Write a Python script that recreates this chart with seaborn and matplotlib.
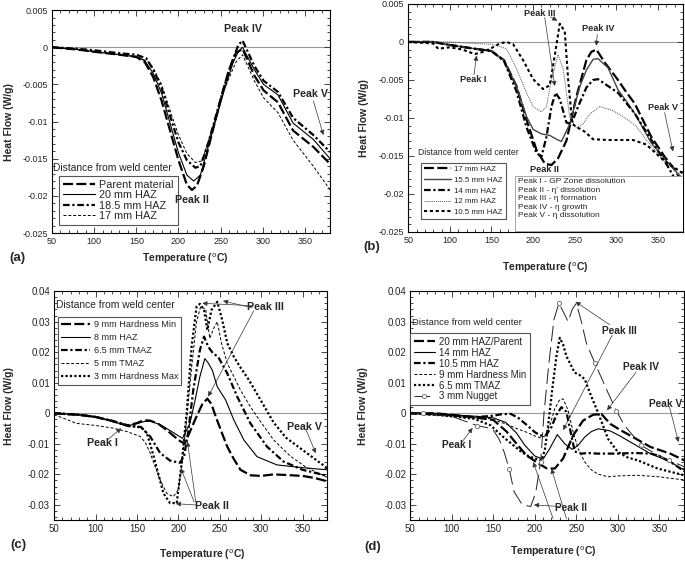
import numpy as np
import pandas as pd
import seaborn as sns
import matplotlib.pyplot as plt
from matplotlib.ticker import MultipleLocator, FuncFormatter
from matplotlib.patches import Rectangle

sns.set_style("ticks")
plt.rcParams['font.family'] = ['Liberation Sans', 'DejaVu Sans']
plt.rcParams['axes.unicode_minus'] = False
plt.rcParams['mathtext.default'] = 'regular'

# ---------------- panel (a) ----------------
a_parent_t = [50, 80, 100, 130, 150, 160, 170, 180, 190, 200, 210, 216, 222, 230, 240, 250, 260, 268, 276, 290, 301, 318, 336, 360, 380]
a_parent = [0, -0.0003, -0.0006, -0.001, -0.0013, -0.002, -0.004, -0.0072, -0.0112, -0.0152, -0.0185, -0.0192, -0.0186, -0.016, -0.0115, -0.007, -0.003, -0.0008, -0.0002, -0.0038, -0.0058, -0.0074, -0.0112, -0.0134, -0.0157]
a_20_t = [50, 80, 100, 130, 150, 160, 170, 180, 190, 200, 210, 218, 226, 235, 245, 255, 265, 271, 276, 290, 301, 318, 336, 360, 380]
a_20 = [0, -0.0003, -0.0006, -0.001, -0.0013, -0.0018, -0.0035, -0.0062, -0.0102, -0.0142, -0.0172, -0.018, -0.0172, -0.0135, -0.0095, -0.0055, -0.002, -0.0006, 0.0, -0.003, -0.005, -0.0064, -0.0102, -0.0124, -0.015]
a_185_t = [50, 80, 100, 130, 150, 162, 170, 180, 190, 200, 210, 220, 226, 235, 245, 255, 265, 271, 276, 290, 301, 318, 336, 360, 380]
a_185 = [0, -0.0002, -0.0004, -0.0008, -0.001, -0.0015, -0.003, -0.0055, -0.0092, -0.0128, -0.0152, -0.0162, -0.016, -0.013, -0.009, -0.005, -0.0015, 0.0003, 0.0009, -0.0025, -0.0045, -0.006, -0.0095, -0.0118, -0.0141]
a_17_t = [50, 80, 100, 130, 150, 165, 170, 180, 190, 200, 210, 220, 228, 240, 255, 268, 276, 290, 301, 318, 336, 360, 380]
a_17 = [0, -0.0003, -0.0006, -0.001, -0.0012, -0.002, -0.0028, -0.005, -0.0085, -0.0118, -0.0143, -0.0155, -0.0153, -0.011, -0.0055, -0.002, -0.001, -0.0045, -0.0068, -0.0088, -0.0125, -0.016, -0.0192]

# ---------------- panel (b) ----------------
b_17_t = [50, 80, 100, 130, 150, 165, 180, 192, 204, 214, 222, 230, 240, 252, 264, 270, 276, 286, 302, 310, 322, 332, 342, 358, 370, 380]
b_17 = [0, 0, -0.0004, -0.0009, -0.0012, -0.0024, -0.0058, -0.0102, -0.0142, -0.016, -0.0162, -0.0153, -0.013, -0.0072, -0.0024, -0.0013, -0.001, -0.0027, -0.005, -0.0063, -0.0081, -0.0103, -0.0125, -0.0151, -0.0168, -0.0186]
b_155_t = [50, 80, 100, 130, 150, 165, 180, 192, 200, 210, 220, 228, 234, 244, 256, 264, 272, 278, 290, 302, 312, 322, 342, 362, 380]
b_155 = [0, 0, -0.0004, -0.0009, -0.0012, -0.0024, -0.0058, -0.0098, -0.0115, -0.0121, -0.0123, -0.0128, -0.0131, -0.0108, -0.0059, -0.0037, -0.0023, -0.0022, -0.0034, -0.0063, -0.0078, -0.0094, -0.0133, -0.0159, -0.0181]
b_14_t = [50, 80, 100, 130, 150, 165, 180, 192, 204, 210, 216, 222, 227, 232, 240, 246, 254, 264, 272, 278, 290, 302, 322, 342, 362, 380]
b_14 = [0, 0, -0.0004, -0.0009, -0.0012, -0.0025, -0.0065, -0.0112, -0.0146, -0.0151, -0.0125, -0.0085, -0.0067, -0.0075, -0.0106, -0.0108, -0.0085, -0.006, -0.005, -0.0049, -0.0058, -0.0067, -0.0094, -0.0129, -0.0164, -0.0199]
b_12_t = [50, 100, 130, 150, 160, 168, 180, 192, 200, 210, 216, 222, 230, 236, 244, 252, 260, 268, 280, 295, 308, 324, 336, 356, 380]
b_12 = [0, 0, -0.0002, -0.0003, -0.0006, -0.0009, -0.0035, -0.0067, -0.0085, -0.0092, -0.0085, -0.005, -0.0017, -0.0035, -0.0099, -0.0113, -0.0108, -0.0095, -0.0085, -0.009, -0.0098, -0.0111, -0.0129, -0.0155, -0.0178]
b_105_t = [50, 80, 86, 100, 115, 130, 140, 150, 160, 168, 176, 188, 200, 212, 220, 226, 232, 238, 242, 247, 254, 262, 272, 290, 320, 336, 356, 380]
b_105 = [0, -0.0002, -0.0009, -0.0007, -0.001, -0.0016, -0.0013, -0.0008, -0.0002, 0.0, -0.0003, -0.0024, -0.0049, -0.0062, -0.0057, -0.0018, 0.0024, 0.0014, -0.0048, -0.0108, -0.0113, -0.0118, -0.0128, -0.0129, -0.0129, -0.0135, -0.0155, -0.0173]

# ---------------- panel (c) ----------------
c_9_t = [50, 80, 100, 120, 138, 150, 158, 166, 176, 186, 196, 203, 208, 214, 222, 229, 235, 240, 245, 252, 259, 267, 275, 287, 300, 315, 330, 350, 365, 380]
c_9 = [0, -0.0005, -0.0012, -0.0025, -0.004, -0.0032, -0.0023, -0.0024, -0.0035, -0.0055, -0.0078, -0.0093, -0.0098, -0.006, -0.001, 0.003, 0.0048, 0.003, -0.001, -0.006, -0.0109, -0.015, -0.0185, -0.0203, -0.0205, -0.02, -0.0202, -0.0205, -0.0212, -0.0223]
c_8_t = [50, 80, 100, 120, 138, 150, 160, 168, 180, 192, 205, 214, 220, 226, 232, 236, 241, 247, 257, 267, 279, 295, 319, 350, 380]
c_8 = [0, -0.0005, -0.0012, -0.0025, -0.0042, -0.0034, -0.0026, -0.0027, -0.004, -0.006, -0.0082, -0.0033, 0.004, 0.012, 0.0179, 0.0165, 0.0141, 0.0087, 0.0044, -0.0022, -0.0087, -0.0142, -0.0169, -0.0178, -0.0185]
c_65_t = [50, 80, 100, 120, 140, 155, 166, 178, 190, 202, 207, 212, 218, 226, 231, 236, 242, 248, 259, 271, 287, 307, 327, 350, 380]
c_65 = [0, -0.0005, -0.0012, -0.0025, -0.004, -0.0045, -0.0076, -0.013, -0.0155, -0.0162, -0.014, -0.006, 0.0076, 0.0207, 0.0251, 0.0218, 0.0196, 0.0185, 0.0131, 0.0055, -0.0033, -0.0109, -0.0158, -0.0185, -0.0205]
c_5_t = [50, 60, 77, 100, 120, 138, 154, 160, 166, 172, 178, 186, 194, 200, 205, 210, 216, 222, 227, 233, 238, 243, 247, 252, 259, 267, 275, 285, 295, 315, 335, 355, 380]
c_5 = [-0.0005, -0.0015, -0.0033, -0.004, -0.0048, -0.006, -0.0076, -0.0095, -0.013, -0.0175, -0.0218, -0.0262, -0.0273, -0.025, -0.015, -0.002, 0.015, 0.03, 0.035, 0.034, 0.0245, 0.028, 0.03, 0.023, 0.0164, 0.012, 0.0076, 0.003, -0.0011, -0.0087, -0.014, -0.0178, -0.021]
c_3_t = [50, 80, 100, 120, 140, 155, 162, 168, 174, 182, 190, 198, 204, 210, 216, 222, 226, 231, 235, 240, 247, 253, 259, 267, 275, 285, 300, 315, 330, 350, 365, 380]
c_3 = [0, -0.0005, -0.0012, -0.0025, -0.0042, -0.0046, -0.0065, -0.012, -0.018, -0.0262, -0.0294, -0.0294, -0.0164, 0.0, 0.0218, 0.0349, 0.0358, 0.0338, 0.0273, 0.0338, 0.0365, 0.0305, 0.023, 0.0185, 0.015, 0.011, 0.004, -0.003, -0.008, -0.012, -0.015, -0.018]

# ---------------- panel (d) ----------------
d_20_t = [50, 80, 100, 126, 150, 166, 178, 190, 202, 214, 224, 234, 246, 258, 270, 280, 291, 303, 315, 339, 363, 380]
d_20 = [0, 0, -0.0005, -0.0013, -0.0022, -0.006, -0.01, -0.0138, -0.016, -0.018, -0.0181, -0.0148, -0.0073, -0.0024, -0.0005, -0.0002, -0.0035, -0.0055, -0.0073, -0.011, -0.0132, -0.0154]
d_14_t = [50, 80, 100, 130, 150, 165, 178, 188, 200, 210, 218, 227, 236, 245, 252, 260, 268, 276, 284, 291, 303, 315, 339, 363, 380]
d_14 = [0, 0, -0.0005, -0.001, -0.0015, -0.003, -0.0065, -0.0105, -0.014, -0.015, -0.0115, -0.007, -0.01, -0.0118, -0.0105, -0.0078, -0.006, -0.0051, -0.0054, -0.0058, -0.0075, -0.0094, -0.0132, -0.0159, -0.0186]
d_105_t = [50, 87, 100, 127, 150, 160, 171, 180, 191, 200, 207, 214, 220, 226, 232, 238, 243, 248, 256, 264, 275, 300, 320, 340, 350, 365, 380]
d_105 = [0, -0.0005, -0.0007, -0.0013, -0.0008, -0.0003, -0.0002, -0.0015, -0.004, -0.0062, -0.0073, -0.007, -0.0045, -0.0005, 0.002, 0.0005, -0.006, -0.0125, -0.0132, -0.013, -0.0132, -0.0132, -0.013, -0.0132, -0.014, -0.0162, -0.019]
d_9_t = [50, 80, 100, 130, 147, 165, 179, 190, 199, 206, 212, 218, 224, 230, 234, 240, 246, 252, 260, 268, 276, 288, 300, 324, 350, 364, 380]
d_9 = [0, -0.0005, -0.001, -0.0015, -0.0018, -0.0035, -0.0051, -0.0062, -0.0073, -0.008, -0.0075, -0.004, 0.0015, 0.0045, 0.0047, 0.001, -0.006, -0.0115, -0.0159, -0.0185, -0.0199, -0.0208, -0.0205, -0.0203, -0.0208, -0.0213, -0.0218]
d_65_t = [50, 80, 100, 127, 147, 160, 172, 184, 192, 200, 208, 212, 216, 221, 226, 230, 234, 238, 243, 248, 254, 260, 268, 276, 288, 300, 312, 324, 348, 380]
d_65 = [0, -0.0005, -0.001, -0.0018, -0.004, -0.0073, -0.01, -0.0127, -0.014, -0.0148, -0.0154, -0.012, -0.004, 0.008, 0.0187, 0.0247, 0.0225, 0.0187, 0.016, 0.0133, 0.0125, 0.0112, 0.0055, 0.0003, -0.0083, -0.0127, -0.0145, -0.0154, -0.0181, -0.0203]
d_3_t = [50, 65, 100, 130, 149, 157, 163, 169, 175, 185, 195, 201, 207, 211, 217, 223, 229, 235, 240, 245, 250, 256, 262, 272, 288, 298, 308, 328, 345, 362, 380]
d_3 = [0, 0, -0.001, -0.004, -0.0051, -0.0085, -0.0127, -0.0181, -0.0257, -0.03, -0.0305, -0.026, -0.0159, 0.0, 0.0166, 0.0307, 0.036, 0.0328, 0.03, 0.034, 0.036, 0.03, 0.023, 0.0166, 0.0068, 0.0009, -0.004, -0.0105, -0.0132, -0.0154, -0.0175]
d_3_marks = [1, 3, 7, 12, 16, 23, 25, 27, 29]

# line styles
LONG = dict(color='black', lw=1.6, linestyle=(0, (4.5, 1.5)))
SOLID = dict(color='black', lw=0.8, linestyle='-')
DASHDOT = dict(color='black', lw=1.6, linestyle=(0, (3, 1.2, 1, 1.2)))
FINE = dict(color='black', lw=0.7, linestyle=(0, (3, 2)))
HDOT = dict(color='black', lw=1.6, linestyle=(0, (1, 1)))
GRAYSOLID = dict(color='#444444', lw=1.0, linestyle='-')
GRAYDOT = dict(color='#555555', lw=0.7, linestyle=(0, (1, 1)))
SQDOT = dict(color='black', lw=1.5, linestyle=(0, (1.5, 1.3)))
NUGGET = dict(color='#222222', lw=0.7, linestyle=(0, (16, 6)), marker='o', markersize=3,
              markerfacecolor='white', markeredgecolor='#777777', markeredgewidth=0.7)

fig = plt.figure(figsize=(6.85, 5.63), dpi=100)
axa = fig.add_axes([0.076, 0.586, 0.406, 0.396])
axb = fig.add_axes([0.596, 0.588, 0.401, 0.405])
axc = fig.add_axes([0.079, 0.076, 0.399, 0.407])
axd = fig.add_axes([0.599, 0.076, 0.400, 0.407])

ARROW = dict(arrowstyle='-|>', color='#333333', lw=0.5, mutation_scale=7, shrinkA=0, shrinkB=0)


def draw(ax, t, hf, label, style, **extra):
    sns.lineplot(x=t, y=hf, ax=ax, label=label, estimator=None, sort=False, **style, **extra)


def peak(ax, text, pos, fs, arrows=()):
    ax.text(pos[0], pos[1], text, fontsize=fs, fontweight='bold', ha='center', va='center', zorder=6)
    for tail, head in arrows:
        ax.annotate('', xy=head, xytext=tail, arrowprops=ARROW, zorder=6)


def fmt(v, p):
    v = round(v, 6)
    return '0' if v == 0 else '%g' % v


def style_axes(ax, yticks, yminor, tfs):
    ax.set_xlim(50, 380)
    ax.set_ylim(yticks[0], yticks[-1])
    ax.set_xticks([50, 100, 150, 200, 250, 300, 350])
    ax.set_yticks(yticks)
    ax.xaxis.set_minor_locator(MultipleLocator(10))
    ax.yaxis.set_minor_locator(MultipleLocator(yminor))
    ax.yaxis.set_major_formatter(FuncFormatter(fmt))
    ax.tick_params(which='both', direction='in', top=True, right=True, labelsize=tfs, width=0.6, pad=3)
    ax.tick_params(which='major', length=4)
    ax.tick_params(which='minor', length=2)
    for s in ax.spines.values():
        s.set_linewidth(0.8)
        s.set_color('black')
    ax.axhline(0, color='#999999', lw=0.8, zorder=0)
    ax.set_xlabel(r'Temperature ($^{\mathrm{o}}$C)', fontsize=7.5, fontweight='bold')
    ax.set_ylabel('Heat Flow (W/g)', fontsize=7.5, fontweight='bold')


def legend(ax, anchor, fs, hl, ls):
    ax.legend(loc='upper left', bbox_to_anchor=anchor, fontsize=fs, frameon=True, fancybox=False,
              edgecolor='#555555', framealpha=1, handlelength=hl, labelspacing=ls,
              handletextpad=0.4, borderpad=0.35, borderaxespad=0)
    ax.get_legend().get_frame().set_linewidth(0.8)
    ax.get_legend().set_zorder(5)


# ---- (a)
draw(axa, a_parent_t, a_parent, 'Parent material', LONG)
draw(axa, a_20_t, a_20, '20 mm HAZ', SOLID)
draw(axa, a_185_t, a_185, '18.5 mm HAZ', DASHDOT)
draw(axa, a_17_t, a_17, '17 mm HAZ', FINE)
style_axes(axa, [-0.025, -0.02, -0.015, -0.01, -0.005, 0, 0.005], 0.001, 6.5)
legend(axa, (0.024, 0.257), 7.8, 3.0, 0.05)
axa.text(51, -0.0163, 'Distance from weld center', fontsize=7.4, ha='left', va='center')
peak(axa, 'Peak IV', (277, 0.0025), 7.7)
peak(axa, 'Peak II', (216, -0.0205), 7.7)
peak(axa, 'Peak V', (357, -0.0063), 7.7, [((360, -0.0072), (372, -0.0118))])
axa.xaxis.set_label_coords(0.478, -0.085)
axa.yaxis.set_label_coords(-0.138, 0.5)

# ---- (b)
draw(axb, b_17_t, b_17, '17 mm HAZ', LONG)
draw(axb, b_155_t, b_155, '15.5 mm HAZ', GRAYSOLID)
draw(axb, b_14_t, b_14, '14 mm HAZ', DASHDOT)
draw(axb, b_12_t, b_12, '12 mm HAZ', GRAYDOT)
draw(axb, b_105_t, b_105, '10.5 mm HAZ', SQDOT)
style_axes(axb, [-0.025, -0.02, -0.015, -0.01, -0.005, 0, 0.005], 0.001, 6.5)
legend(axb, (0.048, 0.303), 5.7, 3.4, 0.4)
axb.text(62, -0.0146, 'Distance from weld center', fontsize=6.2, ha='left', va='center')
axb.add_patch(Rectangle((178, -0.0249), 202, 0.0073, facecolor='white', edgecolor='#999999', lw=0.6, zorder=5))
axb.text(182, -0.0179, "Peak I - GP Zone dissolution\nPeak II - η' dissolution\nPeak III - η formation\n"
         "Peak IV - η growth\nPeak V - η dissolution", fontsize=6.0, ha='left', va='top', linespacing=1.32, zorder=6)
peak(axb, 'Peak I', (128, -0.0050), 6.6, [((129, -0.0043), (132, -0.0018))])
peak(axb, 'Peak III', (208, 0.0038), 6.6, [((221, 0.0033), (229, 0.0028)), ((214, 0.0032), (226, -0.0058))])
peak(axb, 'Peak IV', (278, 0.0018), 6.6, [((277, 0.0010), (276, -0.0005))])
peak(axb, 'Peak V', (356, -0.0086), 6.6, [((358, -0.0093), (368, -0.0144))])
peak(axb, 'Peak II', (214, -0.0168), 6.6)
axb.xaxis.set_label_coords(0.50, -0.127)
axb.yaxis.set_label_coords(-0.144, 0.5)

# ---- (c)
draw(axc, c_9_t, c_9, '9 mm Hardness Min', LONG)
draw(axc, c_8_t, c_8, '8 mm HAZ', SOLID)
draw(axc, c_65_t, c_65, '6.5 mm TMAZ', DASHDOT)
draw(axc, c_5_t, c_5, '5 mm TMAZ', FINE)
draw(axc, c_3_t, c_3, '3 mm Hardness Max', HDOT)
style_axes(axc, [-0.03, -0.02, -0.01, 0, 0.01, 0.02, 0.03, 0.04], 0.002, 7)
axc.set_ylim(-0.035, 0.04)
legend(axc, (0.015, 0.888), 6.6, 3.1, 0.45)
axc.text(52, 0.0354, 'Distance from weld center', fontsize=7.4, ha='left', va='center')
peak(axc, 'Peak I', (108, -0.0098), 7.7, [((114, -0.0088), (131, -0.0049))])
peak(axc, 'Peak II', (240, -0.0303), 7.7, [((221, -0.0300), (197, -0.0296)),
                                          ((219, -0.0290), (203, -0.0180)),
                                          ((221, -0.0290), (211, -0.0093))])
peak(axc, 'Peak III', (305, 0.0349), 7.7, [((289, 0.0352), (229, 0.0360)),
                                           ((289, 0.0345), (254, 0.0368)),
                                           ((291, 0.0335), (236, 0.0055))])
peak(axc, 'Peak V', (352, -0.0044), 7.7, [((354, -0.0053), (366, -0.0131))])
axc.xaxis.set_label_coords(0.54, -0.118)
axc.yaxis.set_label_coords(-0.148, 0.5)

# ---- (d)
draw(axd, d_20_t, d_20, '20 mm HAZ/Parent', LONG)
draw(axd, d_14_t, d_14, '14 mm HAZ', SOLID)
draw(axd, d_105_t, d_105, '10.5 mm HAZ', DASHDOT)
draw(axd, d_9_t, d_9, '9 mm Hardness Min', FINE)
draw(axd, d_65_t, d_65, '6.5 mm TMAZ', HDOT)
draw(axd, d_3_t, d_3, '3 mm Nugget', NUGGET, markevery=d_3_marks)
style_axes(axd, [-0.03, -0.02, -0.01, 0, 0.01, 0.02, 0.03, 0.04], 0.002, 7)
axd.set_ylim(-0.035, 0.04)
legend(axd, (0.0, 0.816), 7.0, 2.2, 0.1)
axd.text(52, 0.0296, 'Distance from weld center', fontsize=6.8, ha='left', va='center')
peak(axd, 'Peak I', (106, -0.0105), 7.3, [((112, -0.0095), (125, -0.0048))])
peak(axd, 'Peak II', (244, -0.0309), 7.3, [((230, -0.0305), (199, -0.0300)),
                                          ((222, -0.0345), (198, -0.0160)),
                                          ((238, -0.0345), (220, -0.0181))])
peak(axd, 'Peak III', (302, 0.0270), 7.3, [((290, 0.0290), (249, 0.0365)),
                                           ((293, 0.0255), (234, -0.0055))])
peak(axd, 'Peak IV', (328, 0.0150), 7.3, [((322, 0.0135), (287, 0.0010))])
peak(axd, 'Peak V', (358, 0.0030), 7.3, [((362, 0.0022), (373, -0.0094))])
axd.xaxis.set_label_coords(0.52, -0.105)
axd.yaxis.set_label_coords(-0.155, 0.5)

for lab, x, y in [('(a)', 17, 258), ('(b)', 372, 247), ('(c)', 18, 545), ('(d)', 373, 547)]:
    fig.text(x / 685, 1 - y / 563, lab, fontsize=9.5, fontweight='bold', ha='center', va='center')

fig.savefig('out.png', dpi=100)
